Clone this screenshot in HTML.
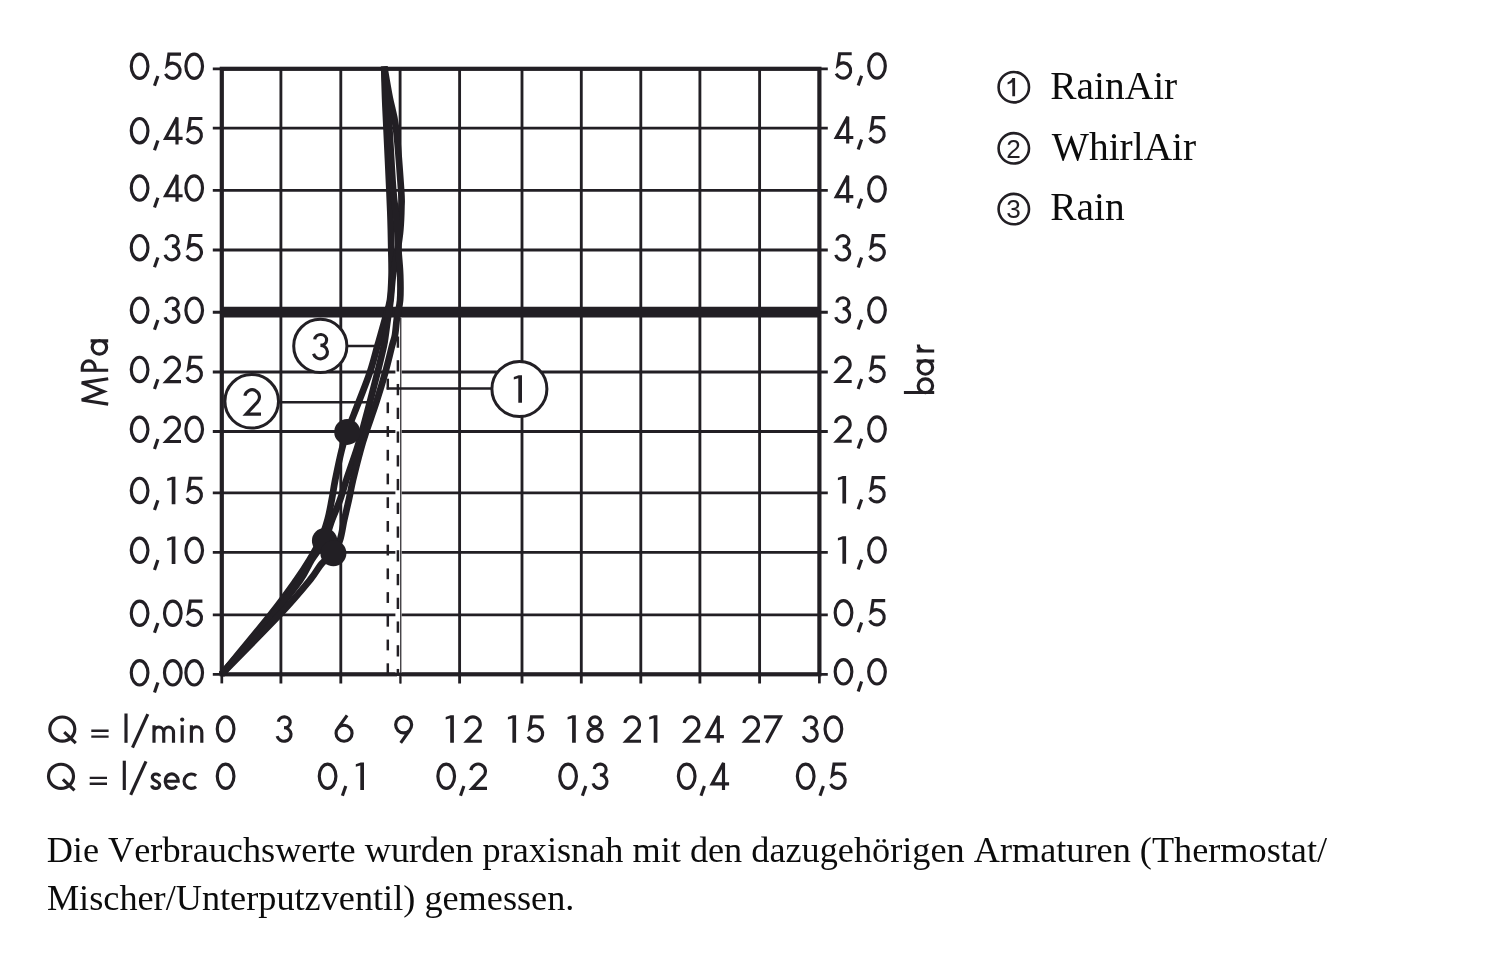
<!DOCTYPE html>
<html lang="de">
<head>
<meta charset="utf-8">
<title>Durchflussdiagramm</title>
<style>
html,body{margin:0;padding:0;background:#fff;}
body{width:1500px;height:956px;overflow:hidden;font-family:"Liberation Sans",sans-serif;}
svg{display:block;will-change:transform;}
</style>
</head>
<body>
<svg width="1500" height="956" viewBox="0 0 1500 956">
<rect width="1500" height="956" fill="#fff"/>
<g stroke="#221f24" fill="none" stroke-linecap="butt">
<line x1="212.8" x2="827.8" y1="68.8" y2="68.8" stroke-width="2.7"/>
<line x1="212.8" x2="827.8" y1="128.1" y2="128.1" stroke-width="2.85"/>
<line x1="212.8" x2="827.8" y1="190.3" y2="190.3" stroke-width="2.85"/>
<line x1="212.8" x2="827.8" y1="250" y2="250" stroke-width="2.85"/>
<line x1="212.8" x2="827.8" y1="312.2" y2="312.2" stroke-width="2.85"/>
<line x1="212.8" x2="827.8" y1="372" y2="372" stroke-width="2.85"/>
<line x1="212.8" x2="827.8" y1="431.5" y2="431.5" stroke-width="2.85"/>
<line x1="212.8" x2="827.8" y1="492.9" y2="492.9" stroke-width="2.85"/>
<line x1="212.8" x2="827.8" y1="552.3" y2="552.3" stroke-width="2.85"/>
<line x1="212.8" x2="827.8" y1="614.8" y2="614.8" stroke-width="2.85"/>
<line x1="212.8" x2="827.8" y1="674.3" y2="674.3" stroke-width="2.7"/>
<line x1="221.8" x2="221.8" y1="674.3" y2="683.4" stroke-width="2.7"/>
<line x1="280.9" x2="280.9" y1="68.8" y2="683.4" stroke-width="2.85"/>
<line x1="340.8" x2="340.8" y1="68.8" y2="683.4" stroke-width="2.85"/>
<line x1="459.6" x2="459.6" y1="68.8" y2="683.4" stroke-width="2.85"/>
<line x1="522" x2="522" y1="68.8" y2="683.4" stroke-width="2.85"/>
<line x1="581.3" x2="581.3" y1="68.8" y2="683.4" stroke-width="2.85"/>
<line x1="640.8" x2="640.8" y1="68.8" y2="683.4" stroke-width="2.85"/>
<line x1="699.9" x2="699.9" y1="68.8" y2="683.4" stroke-width="2.85"/>
<line x1="759.6" x2="759.6" y1="68.8" y2="683.4" stroke-width="2.85"/>
<line x1="819.4" x2="819.4" y1="674.3" y2="683.4" stroke-width="2.7"/>
<rect x="221.8" y="68.8" width="597.6" height="605.5" stroke-width="4.2"/>
<line x1="221.5" x2="819.4" y1="312.2" y2="312.2" stroke-width="10.7"/>
<line x1="400.1" x2="400.1" y1="68.8" y2="312.2" stroke-width="2.85"/>
<line x1="399.7" x2="399.7" y1="312.2" y2="683.4" stroke-width="2.85"/>
</g>
<rect x="395.4" y="317.4" width="6.2" height="355.1" fill="#fff"/>
<rect x="397" y="676.1" width="4.6" height="9.2" fill="#fff"/>
<line x1="400.75" x2="400.75" y1="317.4" y2="683.5" stroke="#221f24" stroke-width="1.15"/>
<line x1="400.3" x2="400.3" y1="674.3" y2="683.5" stroke="#221f24" stroke-width="2.1"/>
<g stroke="#221f24" stroke-width="2.5" fill="none">
<line x1="397.9" x2="397.9" y1="336.45" y2="347.75"/>
<line x1="397.9" x2="397.9" y1="360.2" y2="371.5"/>
<line x1="397.9" x2="397.9" y1="383.95" y2="395.25"/>
<line x1="397.9" x2="397.9" y1="407.7" y2="419"/>
<line x1="397.9" x2="397.9" y1="431.45" y2="442.75"/>
<line x1="397.9" x2="397.9" y1="455.2" y2="466.5"/>
<line x1="397.9" x2="397.9" y1="478.95" y2="490.25"/>
<line x1="397.9" x2="397.9" y1="502.7" y2="514"/>
<line x1="397.9" x2="397.9" y1="526.45" y2="537.75"/>
<line x1="397.9" x2="397.9" y1="550.2" y2="561.5"/>
<line x1="397.9" x2="397.9" y1="573.95" y2="585.25"/>
<line x1="397.9" x2="397.9" y1="597.7" y2="609"/>
<line x1="397.9" x2="397.9" y1="621.45" y2="632.75"/>
<line x1="397.9" x2="397.9" y1="645.2" y2="656.5"/>
<line x1="397.9" x2="397.9" y1="668.95" y2="674.3"/>
<line x1="387.8" x2="387.8" y1="378.66" y2="389.46"/>
<line x1="387.8" x2="387.8" y1="402.38" y2="413.18"/>
<line x1="387.8" x2="387.8" y1="426.1" y2="436.9"/>
<line x1="387.8" x2="387.8" y1="449.82" y2="460.62"/>
<line x1="387.8" x2="387.8" y1="473.54" y2="484.34"/>
<line x1="387.8" x2="387.8" y1="497.26" y2="508.06"/>
<line x1="387.8" x2="387.8" y1="520.98" y2="531.78"/>
<line x1="387.8" x2="387.8" y1="544.7" y2="555.5"/>
<line x1="387.8" x2="387.8" y1="568.42" y2="579.22"/>
<line x1="387.8" x2="387.8" y1="592.14" y2="602.94"/>
<line x1="387.8" x2="387.8" y1="615.86" y2="626.66"/>
<line x1="387.8" x2="387.8" y1="639.58" y2="650.38"/>
<line x1="387.8" x2="387.8" y1="663.3" y2="674.1"/>
</g>
<g stroke="#221f24" stroke-width="2.5" fill="none">
<line x1="345" x2="378" y1="346" y2="346"/>
<line x1="276" x2="368" y1="402.3" y2="402.3"/>
<line x1="386.7" x2="493" y1="388.6" y2="388.6"/>
</g>
<g stroke="#221f24" stroke-width="6.7" fill="none" stroke-linecap="butt" stroke-linejoin="round">
<path d="M384.2,66.5 C384.35,71.7 384.72,87.45 385.1,97.7 C385.48,107.95 385.78,112.62 386.5,128 C387.22,143.38 388.72,174.67 389.4,190 C390.08,205.33 390.28,210 390.6,220 C390.92,230 391.13,240.83 391.3,250 C391.47,259.17 391.82,266.67 391.6,275 C391.38,283.33 391.03,292.92 390,300 C388.97,307.08 386.97,311.67 385.4,317.5 C383.83,323.33 381.93,330.25 380.6,335 C379.27,339.75 379.17,339.83 377.4,346 C375.63,352.17 373.13,362.62 370,372 C366.87,381.38 362.42,392.32 358.6,402.3 C354.78,412.28 349.92,423.95 347.1,431.9 C344.28,439.85 343.68,441.98 341.7,450 C339.72,458.02 336.87,471.67 335.2,480 C333.53,488.33 332.98,493.33 331.7,500 C330.42,506.67 329.37,513.33 327.5,520 C325.63,526.67 323.52,533.33 320.5,540 C317.48,546.67 313.43,553.33 309.4,560 C305.37,566.67 302.8,570.87 296.3,580 C289.8,589.13 282.87,599.08 270.4,614.8 C257.93,630.52 229.65,664.38 221.5,674.3"/>
<path d="M384.2,66.5 C385.12,71.7 387.73,87.45 389.7,97.7 C391.67,107.95 394.1,112.62 396,128 C397.9,143.38 400.2,176.83 401.1,190 C402,203.17 401.53,200.33 401.4,207 C401.27,213.67 400.93,222.83 400.3,230 C399.67,237.17 398.82,242.5 397.6,250 C396.38,257.5 394.17,266.67 393,275 C391.83,283.33 391.43,292.92 390.6,300 C389.77,307.08 388.83,311.67 388,317.5 C387.17,323.33 386.3,330.25 385.6,335 C384.9,339.75 385.13,339.83 383.8,346 C382.47,352.17 379.93,362.62 377.6,372 C375.27,381.38 372.4,392.38 369.8,402.3 C367.2,412.22 364.22,423.55 362,431.5 C359.78,439.45 359.12,441.92 356.5,450 C353.88,458.08 349.05,471.67 346.3,480 C343.55,488.33 342.38,493.33 340,500 C337.62,506.67 334.58,513.22 332,520 C329.42,526.78 327.9,534.03 324.5,540.7 C321.1,547.37 315.63,553.45 311.6,560 C307.57,566.55 306.73,570.87 300.3,580 C293.87,589.13 286.13,599.08 273,614.8 C259.87,630.52 230.08,664.38 221.5,674.3"/>
<path d="M384.2,66.5 C384.58,71.7 385.65,87.45 386.5,97.7 C387.35,107.95 388.18,112.62 389.3,128 C390.42,143.38 391.98,174.67 393.2,190 C394.42,205.33 395.73,210 396.6,220 C397.47,230 397.8,240.83 398.4,250 C399,259.17 399.92,266.67 400.2,275 C400.48,283.33 400.63,292.92 400.1,300 C399.57,307.08 397.85,311.67 397,317.5 C396.15,323.33 395.83,330.25 395,335 C394.17,339.75 393.6,339.83 392,346 C390.4,352.17 388.02,362.62 385.4,372 C382.78,381.38 379.48,392.38 376.3,402.3 C373.12,412.22 368.92,423.55 366.3,431.5 C363.68,439.45 362.82,441.92 360.6,450 C358.38,458.08 354.97,471.67 353,480 C351.03,488.33 350.27,493.33 348.8,500 C347.33,506.67 345.67,513.33 344.2,520 C342.73,526.67 341.82,534.47 340,540 C338.18,545.53 336.37,549.25 333.3,553.2 C330.23,557.15 325.48,559.23 321.6,563.7 C317.72,568.17 317,571.48 310,580 C303,588.52 294.35,599.08 279.6,614.8 C264.85,630.52 231.18,664.38 221.5,674.3"/>
</g>
<g fill="#221f24">
<circle cx="347.2" cy="431.9" r="13"/>
<circle cx="324.6" cy="540.7" r="12.7"/>
<circle cx="333.4" cy="553.2" r="13"/>
</g>
<g stroke="#221f24" stroke-width="3" fill="#fff">
<circle cx="320.3" cy="345.9" r="26.6"/>
<circle cx="251.7" cy="401.3" r="26.8"/>
<circle cx="519.4" cy="389.0" r="27.5"/>
</g>
<g stroke="#221f24" stroke-width="3.15" fill="none" stroke-linecap="butt" stroke-linejoin="miter" stroke-miterlimit="3">
<path transform="translate(311.7,360.4)" d="M3.03,-21.03 A5.95,5.46 0 1 1 8.95,-15 M8.7,-15 A7.05,6.71 0 1 1 1.86,-6.66"/>
<path transform="translate(243.2,415.7)" d="M1.69,-19.87 A7.33,7.33 0 1 1 14.23,-13.57 L2.9,-1.57 H17.8"/>
<path transform="translate(513.8,402.7)" d="M0,-25.8 L4.9,-27.5 H8.2 V0 H4.5 V-24.5 L0,-23.2 Z" fill="#221f24" stroke="none"/>
<path transform="translate(129.7,80)" d="M1.57,-13.75 A8.33,12.18 0 1 1 18.23,-13.75 A8.33,12.18 0 1 1 1.57,-13.75 Z"/>
<path transform="translate(153.3,80)" d="M4.6,-4.0 L1.2,5.8"/>
<path transform="translate(163.2,80)" d="M17.8,-25.93 H5.7 L4.08,-14.8 A7.62,7.62 0 1 1 2.28,-6.1"/>
<path transform="translate(184.3,80)" d="M1.57,-13.75 A8.33,12.18 0 1 1 18.23,-13.75 A8.33,12.18 0 1 1 1.57,-13.75 Z"/>
<path transform="translate(129.7,144.4)" d="M1.57,-13.75 A8.33,12.18 0 1 1 18.23,-13.75 A8.33,12.18 0 1 1 1.57,-13.75 Z"/>
<path transform="translate(153.3,144.4)" d="M4.6,-4.0 L1.2,5.8"/>
<path transform="translate(162.7,144.4)" d="M14.3,0 V-26.9 L2.9,-6.1 H19.9"/>
<path transform="translate(184.6,144.4)" d="M17.8,-25.93 H5.7 L4.08,-14.8 A7.62,7.62 0 1 1 2.28,-6.1"/>
<path transform="translate(129.7,201.8)" d="M1.57,-13.75 A8.33,12.18 0 1 1 18.23,-13.75 A8.33,12.18 0 1 1 1.57,-13.75 Z"/>
<path transform="translate(153.3,201.8)" d="M4.6,-4.0 L1.2,5.8"/>
<path transform="translate(162.7,201.8)" d="M14.3,0 V-26.9 L2.9,-6.1 H19.9"/>
<path transform="translate(184.3,201.8)" d="M1.57,-13.75 A8.33,12.18 0 1 1 18.23,-13.75 A8.33,12.18 0 1 1 1.57,-13.75 Z"/>
<path transform="translate(129.7,261.4)" d="M1.57,-13.75 A8.33,12.18 0 1 1 18.23,-13.75 A8.33,12.18 0 1 1 1.57,-13.75 Z"/>
<path transform="translate(153.3,261.4)" d="M4.6,-4.0 L1.2,5.8"/>
<path transform="translate(163.2,261.4)" d="M3.03,-21.03 A5.95,5.46 0 1 1 8.95,-15 M8.7,-15 A7.05,6.71 0 1 1 1.86,-6.66"/>
<path transform="translate(184.6,261.4)" d="M17.8,-25.93 H5.7 L4.08,-14.8 A7.62,7.62 0 1 1 2.28,-6.1"/>
<path transform="translate(129.7,323.9)" d="M1.57,-13.75 A8.33,12.18 0 1 1 18.23,-13.75 A8.33,12.18 0 1 1 1.57,-13.75 Z"/>
<path transform="translate(153.3,323.9)" d="M4.6,-4.0 L1.2,5.8"/>
<path transform="translate(163.2,323.9)" d="M3.03,-21.03 A5.95,5.46 0 1 1 8.95,-15 M8.7,-15 A7.05,6.71 0 1 1 1.86,-6.66"/>
<path transform="translate(184.3,323.9)" d="M1.57,-13.75 A8.33,12.18 0 1 1 18.23,-13.75 A8.33,12.18 0 1 1 1.57,-13.75 Z"/>
<path transform="translate(129.7,383.2)" d="M1.57,-13.75 A8.33,12.18 0 1 1 18.23,-13.75 A8.33,12.18 0 1 1 1.57,-13.75 Z"/>
<path transform="translate(153.3,383.2)" d="M4.6,-4.0 L1.2,5.8"/>
<path transform="translate(163.2,383.2)" d="M1.69,-19.87 A7.33,7.33 0 1 1 14.23,-13.57 L2.9,-1.57 H17.8"/>
<path transform="translate(184.6,383.2)" d="M17.8,-25.93 H5.7 L4.08,-14.8 A7.62,7.62 0 1 1 2.28,-6.1"/>
<path transform="translate(129.7,443.1)" d="M1.57,-13.75 A8.33,12.18 0 1 1 18.23,-13.75 A8.33,12.18 0 1 1 1.57,-13.75 Z"/>
<path transform="translate(153.3,443.1)" d="M4.6,-4.0 L1.2,5.8"/>
<path transform="translate(163.2,443.1)" d="M1.69,-19.87 A7.33,7.33 0 1 1 14.23,-13.57 L2.9,-1.57 H17.8"/>
<path transform="translate(184.3,443.1)" d="M1.57,-13.75 A8.33,12.18 0 1 1 18.23,-13.75 A8.33,12.18 0 1 1 1.57,-13.75 Z"/>
<path transform="translate(129.7,504.2)" d="M1.57,-13.75 A8.33,12.18 0 1 1 18.23,-13.75 A8.33,12.18 0 1 1 1.57,-13.75 Z"/>
<path transform="translate(153.3,504.2)" d="M4.6,-4.0 L1.2,5.8"/>
<path transform="translate(167.2,504.2)" d="M0,-25.8 L4.9,-27.5 H8.2 V0 H4.5 V-24.5 L0,-23.2 Z" fill="#221f24" stroke="none"/>
<path transform="translate(184.6,504.2)" d="M17.8,-25.93 H5.7 L4.08,-14.8 A7.62,7.62 0 1 1 2.28,-6.1"/>
<path transform="translate(129.7,564.1)" d="M1.57,-13.75 A8.33,12.18 0 1 1 18.23,-13.75 A8.33,12.18 0 1 1 1.57,-13.75 Z"/>
<path transform="translate(153.3,564.1)" d="M4.6,-4.0 L1.2,5.8"/>
<path transform="translate(167.2,564.1)" d="M0,-25.8 L4.9,-27.5 H8.2 V0 H4.5 V-24.5 L0,-23.2 Z" fill="#221f24" stroke="none"/>
<path transform="translate(184.3,564.1)" d="M1.57,-13.75 A8.33,12.18 0 1 1 18.23,-13.75 A8.33,12.18 0 1 1 1.57,-13.75 Z"/>
<path transform="translate(129.7,627)" d="M1.57,-13.75 A8.33,12.18 0 1 1 18.23,-13.75 A8.33,12.18 0 1 1 1.57,-13.75 Z"/>
<path transform="translate(153.3,627)" d="M4.6,-4.0 L1.2,5.8"/>
<path transform="translate(162.9,627)" d="M1.57,-13.75 A8.33,12.18 0 1 1 18.23,-13.75 A8.33,12.18 0 1 1 1.57,-13.75 Z"/>
<path transform="translate(184.6,627)" d="M17.8,-25.93 H5.7 L4.08,-14.8 A7.62,7.62 0 1 1 2.28,-6.1"/>
<path transform="translate(129.7,686.6)" d="M1.57,-13.75 A8.33,12.18 0 1 1 18.23,-13.75 A8.33,12.18 0 1 1 1.57,-13.75 Z"/>
<path transform="translate(153.3,686.6)" d="M4.6,-4.0 L1.2,5.8"/>
<path transform="translate(162.9,686.6)" d="M1.57,-13.75 A8.33,12.18 0 1 1 18.23,-13.75 A8.33,12.18 0 1 1 1.57,-13.75 Z"/>
<path transform="translate(184.3,686.6)" d="M1.57,-13.75 A8.33,12.18 0 1 1 18.23,-13.75 A8.33,12.18 0 1 1 1.57,-13.75 Z"/>
<path transform="translate(833.9,79.7)" d="M17.8,-25.93 H5.7 L4.08,-14.8 A7.62,7.62 0 1 1 2.28,-6.1"/>
<path transform="translate(857,79.7)" d="M4.6,-4.0 L1.2,5.8"/>
<path transform="translate(867.1,79.7)" d="M1.57,-13.75 A8.33,12.18 0 1 1 18.23,-13.75 A8.33,12.18 0 1 1 1.57,-13.75 Z"/>
<path transform="translate(833.4,143.6)" d="M14.3,0 V-26.9 L2.9,-6.1 H19.9"/>
<path transform="translate(857,143.6)" d="M4.6,-4.0 L1.2,5.8"/>
<path transform="translate(867.4,143.6)" d="M17.8,-25.93 H5.7 L4.08,-14.8 A7.62,7.62 0 1 1 2.28,-6.1"/>
<path transform="translate(833.4,202.7)" d="M14.3,0 V-26.9 L2.9,-6.1 H19.9"/>
<path transform="translate(857,202.7)" d="M4.6,-4.0 L1.2,5.8"/>
<path transform="translate(867.1,202.7)" d="M1.57,-13.75 A8.33,12.18 0 1 1 18.23,-13.75 A8.33,12.18 0 1 1 1.57,-13.75 Z"/>
<path transform="translate(833.9,261.6)" d="M3.03,-21.03 A5.95,5.46 0 1 1 8.95,-15 M8.7,-15 A7.05,6.71 0 1 1 1.86,-6.66"/>
<path transform="translate(857,261.6)" d="M4.6,-4.0 L1.2,5.8"/>
<path transform="translate(867.4,261.6)" d="M17.8,-25.93 H5.7 L4.08,-14.8 A7.62,7.62 0 1 1 2.28,-6.1"/>
<path transform="translate(833.9,323.7)" d="M3.03,-21.03 A5.95,5.46 0 1 1 8.95,-15 M8.7,-15 A7.05,6.71 0 1 1 1.86,-6.66"/>
<path transform="translate(857,323.7)" d="M4.6,-4.0 L1.2,5.8"/>
<path transform="translate(867.1,323.7)" d="M1.57,-13.75 A8.33,12.18 0 1 1 18.23,-13.75 A8.33,12.18 0 1 1 1.57,-13.75 Z"/>
<path transform="translate(833.9,383.1)" d="M1.69,-19.87 A7.33,7.33 0 1 1 14.23,-13.57 L2.9,-1.57 H17.8"/>
<path transform="translate(857,383.1)" d="M4.6,-4.0 L1.2,5.8"/>
<path transform="translate(867.4,383.1)" d="M17.8,-25.93 H5.7 L4.08,-14.8 A7.62,7.62 0 1 1 2.28,-6.1"/>
<path transform="translate(833.9,442.8)" d="M1.69,-19.87 A7.33,7.33 0 1 1 14.23,-13.57 L2.9,-1.57 H17.8"/>
<path transform="translate(857,442.8)" d="M4.6,-4.0 L1.2,5.8"/>
<path transform="translate(867.1,442.8)" d="M1.57,-13.75 A8.33,12.18 0 1 1 18.23,-13.75 A8.33,12.18 0 1 1 1.57,-13.75 Z"/>
<path transform="translate(837.9,503.5)" d="M0,-25.8 L4.9,-27.5 H8.2 V0 H4.5 V-24.5 L0,-23.2 Z" fill="#221f24" stroke="none"/>
<path transform="translate(857,503.5)" d="M4.6,-4.0 L1.2,5.8"/>
<path transform="translate(867.4,503.5)" d="M17.8,-25.93 H5.7 L4.08,-14.8 A7.62,7.62 0 1 1 2.28,-6.1"/>
<path transform="translate(837.9,563.7)" d="M0,-25.8 L4.9,-27.5 H8.2 V0 H4.5 V-24.5 L0,-23.2 Z" fill="#221f24" stroke="none"/>
<path transform="translate(857,563.7)" d="M4.6,-4.0 L1.2,5.8"/>
<path transform="translate(867.1,563.7)" d="M1.57,-13.75 A8.33,12.18 0 1 1 18.23,-13.75 A8.33,12.18 0 1 1 1.57,-13.75 Z"/>
<path transform="translate(833.6,626.5)" d="M1.57,-13.75 A8.33,12.18 0 1 1 18.23,-13.75 A8.33,12.18 0 1 1 1.57,-13.75 Z"/>
<path transform="translate(857,626.5)" d="M4.6,-4.0 L1.2,5.8"/>
<path transform="translate(867.4,626.5)" d="M17.8,-25.93 H5.7 L4.08,-14.8 A7.62,7.62 0 1 1 2.28,-6.1"/>
<path transform="translate(833.6,685.6)" d="M1.57,-13.75 A8.33,12.18 0 1 1 18.23,-13.75 A8.33,12.18 0 1 1 1.57,-13.75 Z"/>
<path transform="translate(857,685.6)" d="M4.6,-4.0 L1.2,5.8"/>
<path transform="translate(867.1,685.6)" d="M1.57,-13.75 A8.33,12.18 0 1 1 18.23,-13.75 A8.33,12.18 0 1 1 1.57,-13.75 Z"/>
<path transform="translate(215.7,742.8)" d="M1.57,-13.75 A8.33,12.18 0 1 1 18.23,-13.75 A8.33,12.18 0 1 1 1.57,-13.75 Z"/><path transform="translate(275.3,742.8)" d="M3.03,-21.03 A5.95,5.46 0 1 1 8.95,-15 M8.7,-15 A7.05,6.71 0 1 1 1.86,-6.66"/><path transform="translate(334.4,742.8)" d="M1.65,-9.57 A8,8 0 1 1 17.65,-9.57 A8,8 0 1 1 1.65,-9.57 Z M12.7,-27.5 L3.16,-14.25"/><path transform="translate(394,742.8)" d="M1.65,-17.93 A8,8 0 1 1 17.65,-17.93 A8,8 0 1 1 1.65,-17.93 Z M6.7,0 L16.17,-13.28"/><path transform="translate(445.7,742.8)" d="M0,-25.8 L4.9,-27.5 H8.2 V0 H4.5 V-24.5 L0,-23.2 Z" fill="#221f24" stroke="none"/><path transform="translate(464,742.8)" d="M1.69,-19.87 A7.33,7.33 0 1 1 14.23,-13.57 L2.9,-1.57 H17.8"/><path transform="translate(507.9,742.8)" d="M0,-25.8 L4.9,-27.5 H8.2 V0 H4.5 V-24.5 L0,-23.2 Z" fill="#221f24" stroke="none"/><path transform="translate(525.8,742.8)" d="M17.8,-25.93 H5.7 L4.08,-14.8 A7.62,7.62 0 1 1 2.28,-6.1"/><path transform="translate(567.6,742.8)" d="M0,-25.8 L4.9,-27.5 H8.2 V0 H4.5 V-24.5 L0,-23.2 Z" fill="#221f24" stroke="none"/><path transform="translate(586.4,742.8)" d="M3.18,-20.95 A5.47,4.97 0 1 1 14.12,-20.95 A5.47,4.97 0 1 1 3.18,-20.95 Z M1.58,-8 A7.08,6.42 0 1 1 15.73,-8 A7.08,6.42 0 1 1 1.58,-8 Z"/><path transform="translate(623.2,742.8)" d="M1.69,-19.87 A7.33,7.33 0 1 1 14.23,-13.57 L2.9,-1.57 H17.8"/><path transform="translate(649.2,742.8)" d="M0,-25.8 L4.9,-27.5 H8.2 V0 H4.5 V-24.5 L0,-23.2 Z" fill="#221f24" stroke="none"/><path transform="translate(682.6,742.8)" d="M1.69,-19.87 A7.33,7.33 0 1 1 14.23,-13.57 L2.9,-1.57 H17.8"/><path transform="translate(704,742.8)" d="M14.3,0 V-26.9 L2.9,-6.1 H19.9"/><path transform="translate(742.2,742.8)" d="M1.69,-19.87 A7.33,7.33 0 1 1 14.23,-13.57 L2.9,-1.57 H17.8"/><path transform="translate(763.9,742.8)" d="M0,-25.93 H16.5 L2.6,0"/><path transform="translate(801.5,742.8)" d="M3.03,-21.03 A5.95,5.46 0 1 1 8.95,-15 M8.7,-15 A7.05,6.71 0 1 1 1.86,-6.66"/><path transform="translate(823.5,742.8)" d="M1.57,-13.75 A8.33,12.18 0 1 1 18.23,-13.75 A8.33,12.18 0 1 1 1.57,-13.75 Z"/>
<path transform="translate(215.7,790)" d="M1.57,-13.75 A8.33,12.18 0 1 1 18.23,-13.75 A8.33,12.18 0 1 1 1.57,-13.75 Z"/><path transform="translate(317.7,790)" d="M1.57,-13.75 A8.33,12.18 0 1 1 18.23,-13.75 A8.33,12.18 0 1 1 1.57,-13.75 Z"/><path transform="translate(341.2,790)" d="M4.6,-4.0 L1.2,5.8"/><path transform="translate(355.8,790)" d="M0,-25.8 L4.9,-27.5 H8.2 V0 H4.5 V-24.5 L0,-23.2 Z" fill="#221f24" stroke="none"/><path transform="translate(436.3,790)" d="M1.57,-13.75 A8.33,12.18 0 1 1 18.23,-13.75 A8.33,12.18 0 1 1 1.57,-13.75 Z"/><path transform="translate(459.3,790)" d="M4.6,-4.0 L1.2,5.8"/><path transform="translate(469.2,790)" d="M1.69,-19.87 A7.33,7.33 0 1 1 14.23,-13.57 L2.9,-1.57 H17.8"/><path transform="translate(558.2,790)" d="M1.57,-13.75 A8.33,12.18 0 1 1 18.23,-13.75 A8.33,12.18 0 1 1 1.57,-13.75 Z"/><path transform="translate(581.2,790)" d="M4.6,-4.0 L1.2,5.8"/><path transform="translate(591.2,790)" d="M3.03,-21.03 A5.95,5.46 0 1 1 8.95,-15 M8.7,-15 A7.05,6.71 0 1 1 1.86,-6.66"/><path transform="translate(676.8,790)" d="M1.57,-13.75 A8.33,12.18 0 1 1 18.23,-13.75 A8.33,12.18 0 1 1 1.57,-13.75 Z"/><path transform="translate(699.8,790)" d="M4.6,-4.0 L1.2,5.8"/><path transform="translate(709.2,790)" d="M14.3,0 V-26.9 L2.9,-6.1 H19.9"/><path transform="translate(795.8,790)" d="M1.57,-13.75 A8.33,12.18 0 1 1 18.23,-13.75 A8.33,12.18 0 1 1 1.57,-13.75 Z"/><path transform="translate(818.8,790)" d="M4.6,-4.0 L1.2,5.8"/><path transform="translate(828.3,790)" d="M17.8,-25.93 H5.7 L4.08,-14.8 A7.62,7.62 0 1 1 2.28,-6.1"/>
<path transform="translate(48.2,742.8)" d="M1.6,-13.7 A12.5,12.1 0 1 1 26.6,-13.7 A12.5,12.1 0 1 1 1.6,-13.7 Z M16.0,-10.6 L27.6,0.3"/><path transform="translate(91.3,742.8)" d="M0,-13.3 H17.3 V-10.9 H0 Z M0,-7.4 H17.3 V-5.0 H0 Z" fill="#221f24" stroke="none"/><path transform="translate(124.4,742.8)" d="M1.6,-29.3 V0"/><path transform="translate(130.8,742.8)" d="M17.0,-28.7 L1.7,4.8"/><path transform="translate(152.4,742.8)" d="M1.6,-17.6 V0 M1.6,-8 V-10.66 A4.88,5.36 0 0 1 11.35,-10.66 V0 M11.35,-8 V-10.66 A4.88,5.36 0 0 1 21.1,-10.66 V0"/><path transform="translate(180.6,742.8)" d="M1.6,-17.6 V0"/><circle cx="182.2" cy="719.6" r="2.1" fill="#221f24" stroke="none"/><path transform="translate(189.8,742.8)" d="M1.6,-17.6 V0 M1.6,-8 V-10.31 A5.2,5.72 0 0 1 12,-10.31 V0"/>
<path transform="translate(46.9,790)" d="M1.6,-13.7 A12.5,12.1 0 1 1 26.6,-13.7 A12.5,12.1 0 1 1 1.6,-13.7 Z M16.0,-10.6 L27.6,0.3"/><path transform="translate(89.7,790)" d="M0,-13.3 H17.3 V-10.9 H0 Z M0,-7.4 H17.3 V-5.0 H0 Z" fill="#221f24" stroke="none"/><path transform="translate(122.7,790)" d="M1.6,-29.3 V0"/><path transform="translate(129,790)" d="M17.0,-28.7 L1.7,4.8"/><path transform="translate(150.4,790)" d="M9.3,-13.6 C8.8,-15.2 7.4,-16.03 5.5,-16.03 C3.3,-16.03 1.9,-14.6 1.9,-12.8 C1.9,-10.6 3.6,-9.8 5.6,-8.9 C7.8,-7.9 9.3,-6.9 9.3,-4.9 C9.3,-2.8 7.6,-1.57 5.3,-1.57 C3.2,-1.57 1.7,-2.6 1.3,-4.6"/><path transform="translate(163.6,790)" d="M1.58,-8.8 H14.62 A6.52,7.23 0 1 0 13.1,-4.16"/><path transform="translate(182.5,790)" d="M13.61,-14.33 A7.33,7.23 0 1 0 13.61,-3.27"/>
<g transform="translate(108.2,405.6) rotate(-90)"><path transform="translate(0,0)" d="M1.5,0 L5.6,-26.4 L14.15,-4.6 L22.7,-26.4 L26.8,0"/><path transform="translate(33.8,0)" d="M1.6,0 V-25.93 H4.5 A6.35,6.4 0 0 1 4.5,-13.12 H1.6"/><path transform="translate(50,0)" d="M1.5,-8.8 A6.8,7.23 0 1 1 15.1,-8.8 A6.8,7.23 0 1 1 1.5,-8.8 Z M14.7,-17.6 V0"/></g>
<g transform="translate(934.2,394.1) rotate(-90)"><path transform="translate(0,0)" d="M1.6,-30.3 V0 M1.5,-8.8 A6.9,7.23 0 1 1 15.3,-8.8 A6.9,7.23 0 1 1 1.5,-8.8 Z"/><path transform="translate(18.4,0)" d="M1.5,-8.8 A6.8,7.23 0 1 1 15.1,-8.8 A6.8,7.23 0 1 1 1.5,-8.8 Z M14.7,-17.6 V0"/><path transform="translate(41.5,0)" d="M1.6,-17.6 V0 M1.6,-9.5 C1.6,-13.8 3.6,-15.83 8.0,-15.83"/></g>
</g>
<g stroke="#221f24" stroke-width="2.6" fill="none">
<circle cx="1013.8" cy="87.2" r="15.2"/>
<circle cx="1013.8" cy="148.3" r="15.2"/>
<circle cx="1013.8" cy="209.1" r="15.2"/>
</g>
<path transform="translate(1013.6,87.2)" fill="#221f24" d="M-1.3,-9.2 H1.5 V9 H-1.3 V-4.9 C-2.7,-3.9 -4.2,-3.2 -6.0,-2.7 V-5.0 C-3.6,-5.8 -2.0,-7.2 -1.3,-9.2 Z"/>
<g font-family="'Liberation Sans', sans-serif" font-size="26.2" fill="#221f24" text-anchor="middle">
<text x="1013.6" y="157.5">2</text>
<text x="1013.6" y="218.3">3</text>
</g>
<g font-family="'Liberation Serif', serif" font-size="39.4" fill="#0c0c0c" style="font-kerning:none">
<text x="1050.3" y="98.9">RainAir</text>
<text x="1051.8" y="159.8">WhirlAir</text>
<text x="1050.3" y="220.4">Rain</text>
</g>
<g font-family="'Liberation Serif', serif" font-size="36.25" fill="#0c0c0c" style="font-kerning:none">
<text id="cap1" x="46.7" y="861.7">Die Verbrauchswerte wurden praxisnah mit den dazugehörigen Armaturen (Thermostat/</text>
<text id="cap2" x="46.9" y="909.6">Mischer/Unterputzventil) gemessen.</text>
</g>
</svg>
</body>
</html>
